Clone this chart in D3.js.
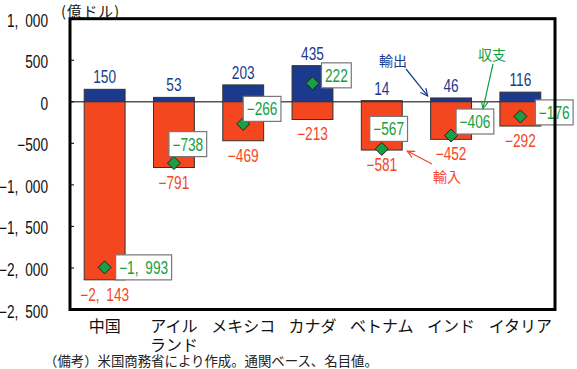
<!DOCTYPE html>
<html><head><meta charset="utf-8">
<script src="https://cdn.jsdelivr.net/npm/d3@7"></script>
<style>
html,body{margin:0;padding:0;background:#fff;}
svg{display:block;}
</style></head>
<body>
<svg id="chart" width="577" height="369"></svg>
<script>
// ---- data ----
const categories = ["中国", "アイルランド", "メキシコ", "カナダ", "ベトナム", "インド", "イタリア"];
const categoryLines = [["中国"], ["アイル", "ランド"], ["メキシコ"], ["カナダ"], ["ベトナム"], ["インド"], ["イタリア"]];
const exportsVal = [150, 53, 203, 435, 14, 46, 116];
const importsVal = [-2143, -791, -469, -213, -581, -452, -292];
const balanceVal = [-1993, -738, -266, 222, -567, -406, -176];
const yTicks = [1000, 500, 0, -500, -1000, -1500, -2000, -2500];
const unitLabel = "(億ドル)";
const footnote = "（備考）米国商務省により作成。通関ベース、名目値。";

// ---- layout (label placement, not data) ----
const balanceBoxOffset = [[11, 0], [-5, -19], [0, -15], [9, -8], [-12, -20], [5, -14], [15, -4]];

const C_EXP = "#1b3a8e", C_IMP = "#f4471f", C_BAL = "#1a9e46", C_BAL_TXT = "#14a03c";
const NUM_FONT = "'Liberation Sans', Arial, sans-serif";
const NUM_SIZE = 17.5, NUM_SQUEEZE = 0.78;
const JP_FONT = "'Noto Sans CJK JP', sans-serif";

const svg = d3.select("#chart");
const L = 70, R = 555, T = 18.7, B = 309.5;

const x = d3.scaleBand().domain(categories).range([L, R]).paddingInner(0.41).paddingOuter(0.205);
const y = d3.scaleLinear().domain([-2500, 1000]).range([B, T]);

const fmt = v => (v < 0 ? "−" : "") + d3.format(",")(Math.abs(v)).replace(/,/g, ",\u2002");

function squeeze(sel) {
  sel.each(function () {
    const len = this.getComputedTextLength();
    d3.select(this).attr("textLength", len * NUM_SQUEEZE).attr("lengthAdjust", "spacingAndGlyphs");
  });
  return sel;
}

// zero line
svg.append("line").attr("x1", L).attr("x2", R).attr("y1", y(0)).attr("y2", y(0))
  .attr("stroke", "#555").attr("stroke-width", 1.5);

// bars
const g = svg.append("g");
g.selectAll("rect.exp").data(categories).join("rect").attr("class", "exp")
  .attr("x", d => x(d)).attr("width", x.bandwidth())
  .attr("y", (d, i) => y(exportsVal[i])).attr("height", (d, i) => y(0) - y(exportsVal[i]))
  .attr("fill", C_EXP).attr("stroke", "#333").attr("stroke-width", 1);
g.selectAll("rect.imp").data(categories).join("rect").attr("class", "imp")
  .attr("x", d => x(d)).attr("width", x.bandwidth())
  .attr("y", y(0)).attr("height", (d, i) => y(importsVal[i]) - y(0))
  .attr("fill", C_IMP).attr("stroke", "#333").attr("stroke-width", 1);

// export labels
svg.selectAll("text.expl").data(categories).join("text").attr("class", "expl")
  .attr("x", d => x(d) + x.bandwidth() / 2).attr("y", (d, i) => y(exportsVal[i]) - 6)
  .attr("text-anchor", "middle").attr("font-family", NUM_FONT).attr("font-size", NUM_SIZE)
  .attr("fill", C_EXP).text((d, i) => fmt(exportsVal[i])).call(squeeze);
// import labels
svg.selectAll("text.impl").data(categories).join("text").attr("class", "impl")
  .attr("x", d => x(d) + x.bandwidth() / 2).attr("y", (d, i) => y(importsVal[i]) + 21)
  .attr("text-anchor", "middle").attr("font-family", NUM_FONT).attr("font-size", NUM_SIZE)
  .attr("fill", C_IMP).text((d, i) => fmt(importsVal[i])).call(squeeze);

// balance diamonds
const ds = 6.5;
svg.selectAll("path.bal").data(categories).join("path").attr("class", "bal")
  .attr("d", (d, i) => {
    const cx = x(d) + x.bandwidth() / 2, cy = y(balanceVal[i]);
    return `M${cx},${cy - ds}L${cx + ds},${cy}L${cx},${cy + ds}L${cx - ds},${cy}Z`;
  })
  .attr("fill", C_BAL).attr("stroke", "#222").attr("stroke-width", 1);

// balance label boxes
categories.forEach((d, i) => {
  const cx = x(d) + x.bandwidth() / 2, cy = y(balanceVal[i]);
  const [dx, dy] = balanceBoxOffset[i];
  const bg = svg.append("g");
  const rect = bg.append("rect");
  const t = bg.append("text").attr("font-family", NUM_FONT).attr("font-size", NUM_SIZE)
    .attr("fill", C_BAL_TXT).text(fmt(balanceVal[i]));
  const w = t.node().getComputedTextLength() * NUM_SQUEEZE + 7, h = 25;
  t.call(squeeze);
  const bx = cx + dx, by = cy + dy - h / 2;
  rect.attr("x", bx).attr("y", by).attr("width", w).attr("height", h)
    .attr("fill", "#fff").attr("stroke", "#777").attr("stroke-width", 1.2);
  t.attr("x", bx + w / 2).attr("y", by + h / 2 + 6.5).attr("text-anchor", "middle");
});

// frame
svg.append("rect").attr("x", L).attr("y", T).attr("width", R - L).attr("height", B - T)
  .attr("fill", "none").attr("stroke", "#000").attr("stroke-width", 3);

// y ticks
svg.selectAll("line.tick").data(yTicks.slice(1, -1)).join("line").attr("class", "tick")
  .attr("x1", L).attr("x2", L + 4).attr("y1", d => y(d)).attr("y2", d => y(d))
  .attr("stroke", "#000").attr("stroke-width", 1);
svg.selectAll("text.ytl").data(yTicks).join("text").attr("class", "ytl")
  .attr("x", 48).attr("y", d => y(d) + 8).attr("text-anchor", "end")
  .attr("font-family", NUM_FONT).attr("font-size", NUM_SIZE).attr("fill", "#111").text(d => fmt(d))
  .call(squeeze);

// unit label
svg.append("text").attr("x", 61).attr("y", 16.6).attr("font-family", JP_FONT)
  .attr("font-size", 14.5).attr("letter-spacing", 1.2).attr("fill", "#111").text(unitLabel);

// category labels
categories.forEach((d, i) => {
  categoryLines[i].forEach((ln, j) => {
    svg.append("text").attr("x", x(d) + x.bandwidth() / 2).attr("y", 332 + j * 19)
      .attr("text-anchor", "middle").attr("font-family", JP_FONT).attr("font-size", 16)
      .attr("fill", "#111").text(ln);
  });
});

// footnote
svg.append("text").attr("x", 44).attr("y", 366).attr("font-family", JP_FONT)
  .attr("font-size", 13.4).attr("fill", "#222").text(footnote);

// annotations with arrows
function arrow(x1, y1, x2, y2, color) {
  svg.append("line").attr("x1", x1).attr("y1", y1).attr("x2", x2).attr("y2", y2)
    .attr("stroke", color).attr("stroke-width", 1.2);
  const a = Math.atan2(y2 - y1, x2 - x1), len = 8, sp = 0.45;
  const p1 = [x2 - len * Math.cos(a - sp), y2 - len * Math.sin(a - sp)];
  const p2 = [x2 - len * Math.cos(a + sp), y2 - len * Math.sin(a + sp)];
  svg.append("path").attr("d", `M${p1}L${x2},${y2}L${p2}`).attr("fill", "none")
    .attr("stroke", color).attr("stroke-width", 1.2);
}
const iIndia = categories.indexOf("インド"), iViet = categories.indexOf("ベトナム");
// 輸出 -> India export bar
const exTx = x(categories[iIndia]) - 3, exTy = y(exportsVal[iIndia]) - 2;
svg.append("text").attr("x", 393).attr("y", 66).attr("text-anchor", "middle").attr("font-family", JP_FONT)
  .attr("font-size", 14).attr("fill", C_EXP).text("輸出");
arrow(406, 69, exTx, exTy, C_EXP);
// 収支 -> India balance box
svg.append("text").attr("x", 492).attr("y", 60).attr("text-anchor", "middle").attr("font-family", JP_FONT)
  .attr("font-size", 14).attr("fill", C_BAL_TXT).text("収支");
arrow(493, 64, 483, y(balanceVal[iIndia]) - 27, C_BAL_TXT);
// 輸入 -> Vietnam import bar
svg.append("text").attr("x", 447).attr("y", 182).attr("text-anchor", "middle").attr("font-family", JP_FONT)
  .attr("font-size", 14).attr("fill", C_IMP).text("輸入");
arrow(432, 164, x(categories[iViet]) + x.bandwidth() + 5, y(importsVal[iViet]) + 1, C_IMP);
</script>
</body></html>
